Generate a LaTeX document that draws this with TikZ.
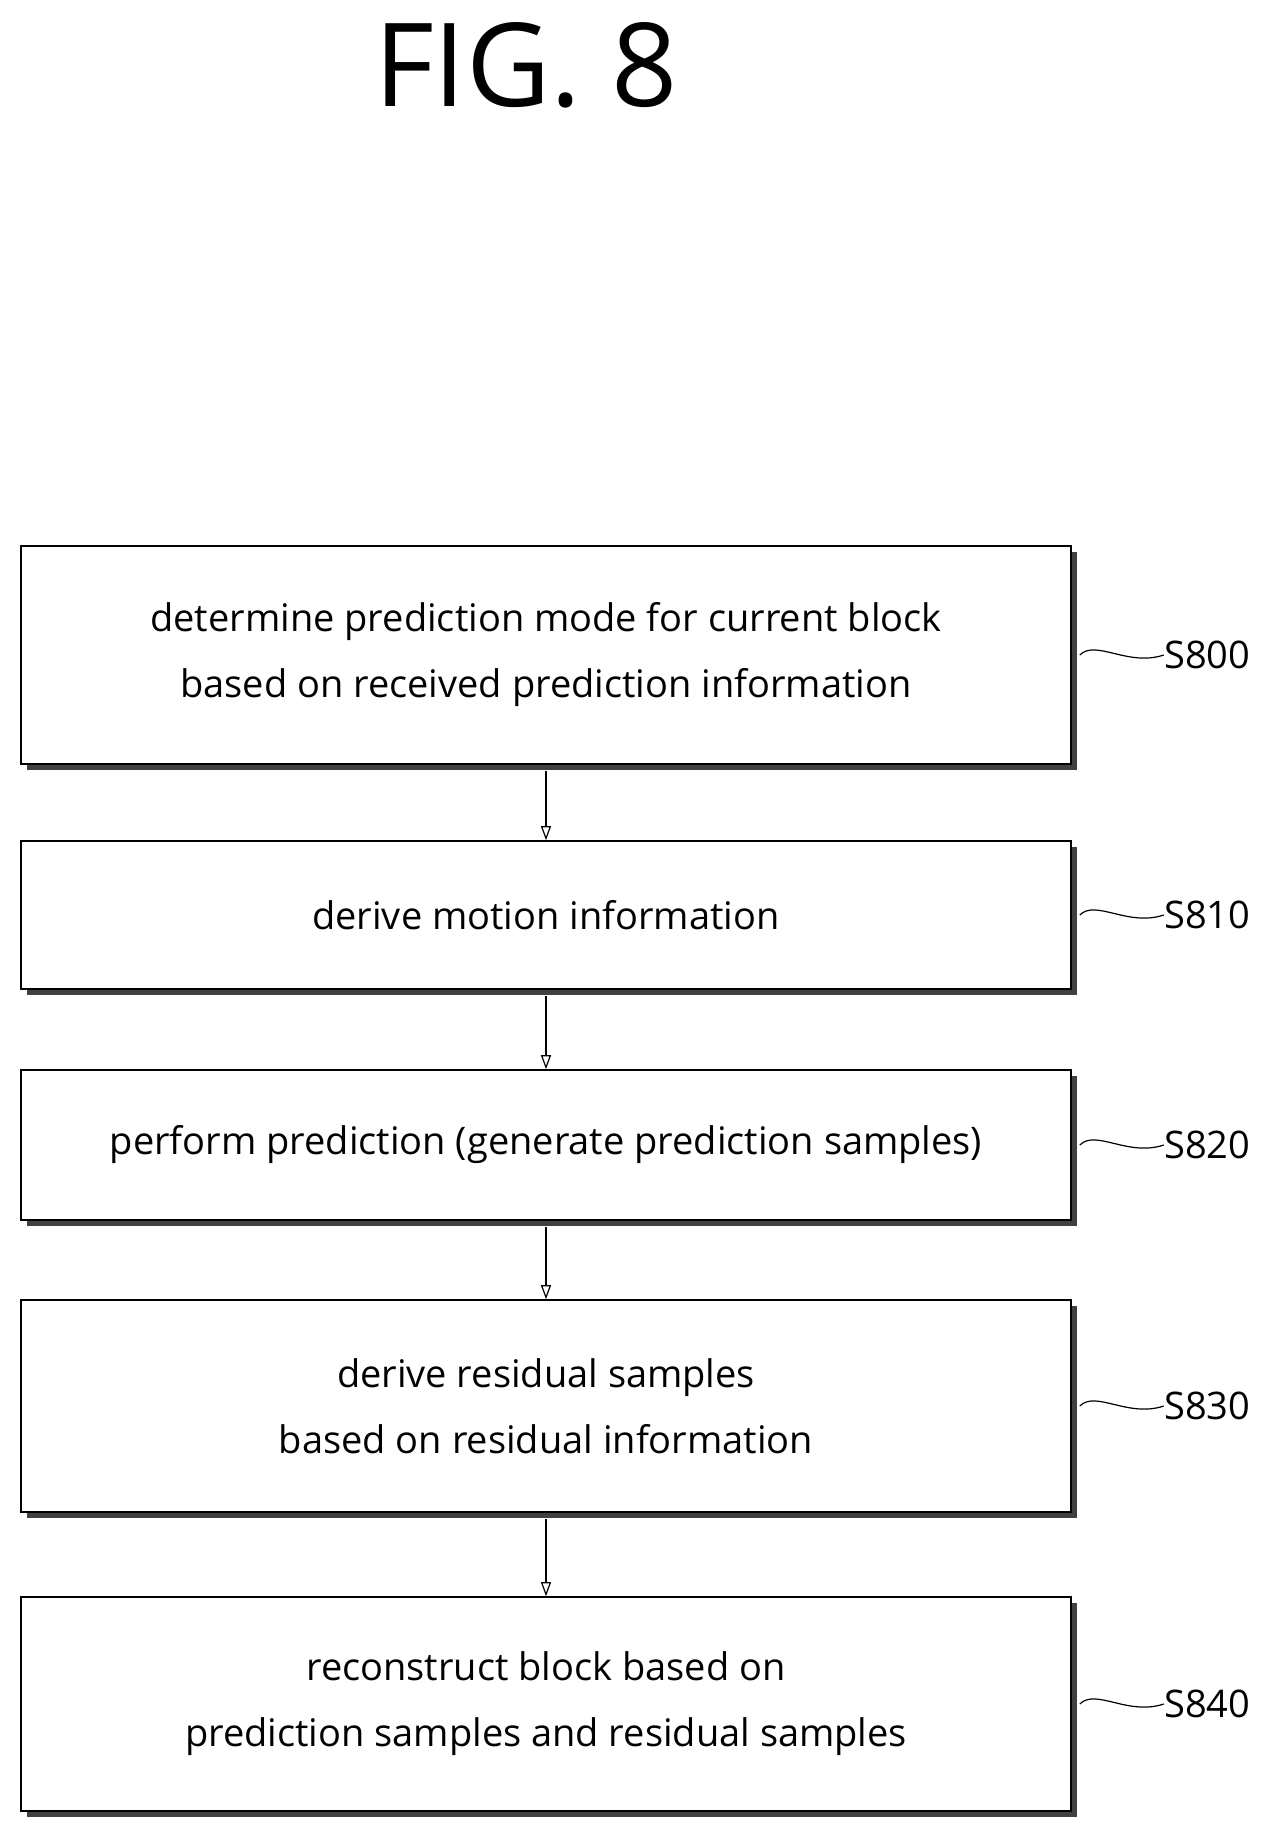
\documentclass[tikz,border=0pt]{standalone}
\usepackage{fontspec}
\setmainfont{Open Sans}
\usetikzlibrary{arrows.meta,decorations.pathmorphing}
\begin{document}
\begin{tikzpicture}[x=0.5pt,y=-0.5pt,
  box/.style={draw=black,line width=0.8pt,fill=white,minimum width=525pt,align=center,
    font=\fontsize{19}{33}\selectfont,inner sep=0pt,
    preaction={fill=black!75,transform canvas={xshift=3pt,yshift=-3pt}}},
  lab/.style={font=\fontsize{19}{22}\selectfont,anchor=west,inner sep=0pt},
  arr/.style={-{Triangle[open,length=7pt,width=5pt]},line width=0.6pt},
  sq/.style={line width=0.6pt}]
\useasboundingbox (0,0) rectangle (1275,1833);
\node[font=\fontsize{58}{60}\selectfont] (title) at (526,65) {FIG. 8};
\node[box,minimum height=109pt] (b0) at (546,655) {determine prediction mode for current block\\based on received prediction information};
\node[box,minimum height=74pt] (b1) at (546,915) {derive motion information};
\node[box,minimum height=75pt] (b2) at (546,1145) {perform prediction (generate prediction samples)};
\node[box,minimum height=106pt] (b3) at (546,1406) {derive residual samples\\based on residual information};
\node[box,minimum height=107pt] (b4) at (546,1704) {reconstruct block based on\\prediction samples and residual samples};
\foreach \i/\t in {0/S800,1/S810,2/S820,3/S830,4/S840}{
  \node[lab] (l\i) at ([xshift=46pt]b\i.east) {\t};
  \draw[sq] ([xshift=4pt]b\i.east) .. controls ([xshift=12pt,yshift=8pt]b\i.east) and ([xshift=28pt,yshift=-6pt]b\i.east) .. (l\i.west);
}
\foreach \a/\b in {b0/b1,b1/b2,b2/b3,b3/b4}
  \draw[arr] ([yshift=-3pt]\a.south) -- (\b.north);
\end{tikzpicture}
\end{document}
